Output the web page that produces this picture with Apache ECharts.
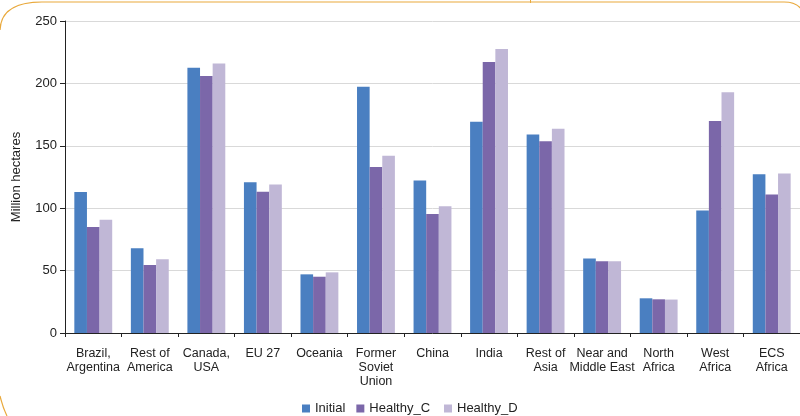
<!DOCTYPE html>
<html>
<head>
<meta charset="utf-8">
<script src="https://cdn.jsdelivr.net/npm/echarts@6/dist/echarts.min.js"></script>
<style>
  html, body { margin: 0; padding: 0; background: #fff; }
  #chart { width: 800px; height: 416px; }
</style>
</head>
<body>
<div id="chart"></div>
<script>
// regions on the x axis
var regions = ['Brazil,\nArgentina', 'Rest of\nAmerica', 'Canada,\nUSA', 'EU 27', 'Oceania',
  'Former\nSoviet\nUnion', 'China', 'India', 'Rest of\nAsia', 'Near and\nMiddle East',
  'North\nAfrica', 'West\nAfrica', 'ECS\nAfrica']
// million hectares per scenario
var initial = [113, 68, 212.5, 120.7, 47, 197.3, 122.2, 169.2, 159.1, 59.7, 27.8, 98.2, 127.3]
var healthyC = [85, 54.5, 206, 113.2, 45.1, 133.1, 95.4, 217.1, 153.7, 57.5, 27, 169.8, 111]
var healthyD = [90.8, 59, 216, 118.9, 48.6, 142, 101.6, 227.5, 163.6, 57.5, 26.8, 193, 127.8]
var yTicks = [0, 50, 100, 150, 200, 250]

var font = "'Liberation Sans', Arial, sans-serif"
var frameColor = '#e9a93c'
var myChart = echarts.init(document.getElementById('chart'))

function bar(name, data, color) {
  return {
    name: name,
    type: 'bar',
    data: data,
    barGap: '0%',
    barCategoryGap: '33%',
    itemStyle: { color: color },
    emphasis: { disabled: true }
  }
}

function frameCurve(x1, y1, cx, cy, x2, y2) {
  return {
    type: 'bezierCurve',
    shape: { x1: x1, y1: y1, cpx1: cx, cpy1: cy, x2: x2, y2: y2 },
    style: { fill: null, stroke: frameColor, lineWidth: 1.2 }
  }
}

function legendPart(left, names, gap) {
  return {
    top: 397,
    left: left,
    itemWidth: 8,
    itemHeight: 8,
    itemGap: gap,
    icon: 'rect',
    textStyle: { fontSize: 13, color: '#222', fontFamily: font },
    data: names
  }
}

myChart.setOption({
  animation: false,
  textStyle: { fontFamily: font },
  // orange frame around the figure
  graphic: [
    frameCurve(0, 30, 1, 2, 42, 2),
    {
      type: 'line',
      shape: { x1: 42, y1: 2, x2: 784, y2: 2 },
      style: { stroke: frameColor, lineWidth: 1.2 }
    },
    frameCurve(784, 2, 798, 2, 803, 12),
    frameCurve(0, 396, 3, 408, 7, 416),
    {
      type: 'line',
      shape: { x1: 530.5, y1: 0, x2: 530.5, y2: 3 },
      style: { stroke: frameColor, lineWidth: 1 }
    }
  ],
  legend: [
    legendPart(297, ['Initial', 'Healthy_C'], 11),
    legendPart(439, ['Healthy_D'], 10)
  ],
  grid: { left: 65, right: 0, top: 21, bottom: 83 },
  xAxis: {
    type: 'category',
    data: regions,
    axisLine: { lineStyle: { color: '#222', width: 1 } },
    axisTick: { show: true, length: 4, interval: 0, lineStyle: { color: '#222' } },
    axisLabel: {
      interval: 0,
      margin: 14,
      fontSize: 12.5,
      lineHeight: 14,
      color: '#222',
      fontFamily: font
    }
  },
  yAxis: {
    type: 'value',
    min: yTicks[0],
    max: yTicks[yTicks.length - 1],
    interval: 50,
    name: 'Million hectares',
    nameLocation: 'middle',
    nameGap: 42,
    nameTextStyle: { fontSize: 13, color: '#222', fontFamily: font },
    axisLine: { show: true, lineStyle: { color: '#222', width: 1 } },
    axisTick: { show: true, length: 5, lineStyle: { color: '#222' } },
    axisLabel: { fontSize: 13, color: '#222', margin: 8, fontFamily: font },
    splitLine: { lineStyle: { color: '#d9d9d9', width: 1 } }
  },
  series: [
    bar('Initial', initial, '#4a7fc1'),
    bar('Healthy_C', healthyC, '#7b67a9'),
    bar('Healthy_D', healthyD, '#c0b7d6')
  ]
})
</script>
</body>
</html>
